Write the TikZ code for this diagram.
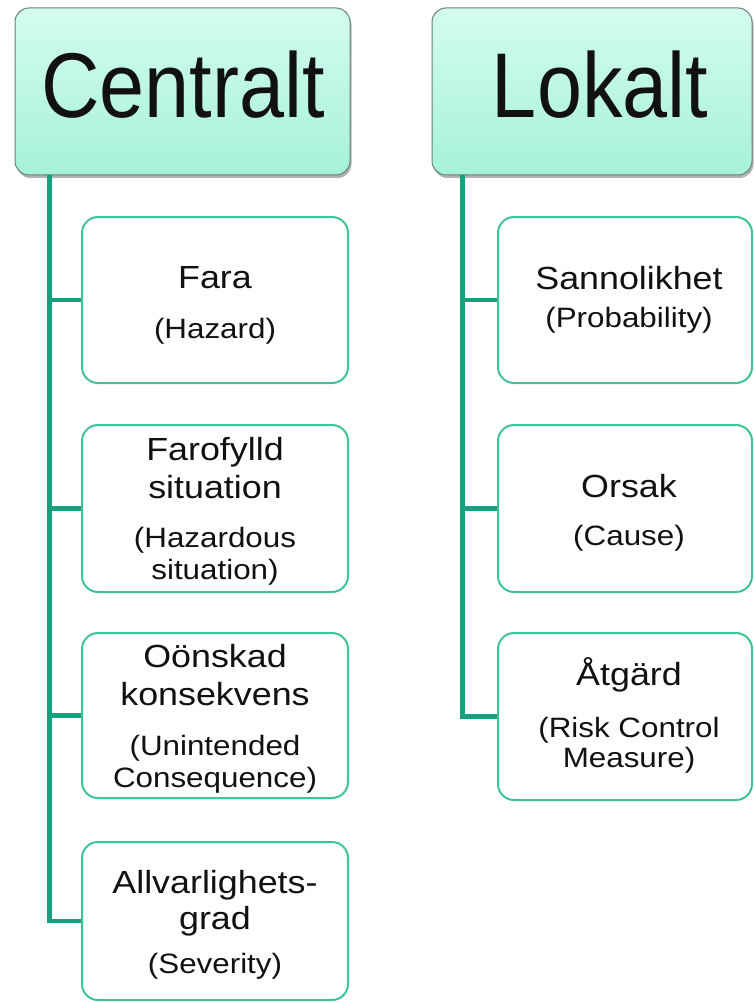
\documentclass[tikz,border=0pt]{standalone}
\usepackage{fontspec}
\setmainfont{Liberation Sans}
\newfontfamily\headfont[FakeStretch=0.88]{Liberation Sans}
\newfontfamily\itemfont[FakeStretch=1.12]{Liberation Sans}
\usetikzlibrary{shadows}
\definecolor{headtop}{HTML}{D3FCEF}
\definecolor{headbot}{HTML}{A6F2D9}
\definecolor{headedge}{HTML}{6B7F78}
\definecolor{itemedge}{HTML}{3CC49C}
\definecolor{connc}{HTML}{14A07C}
\definecolor{ink}{HTML}{111111}
\begin{document}
\begin{tikzpicture}[x=1pt,y=-1pt,
  head/.style={draw=headedge, line width=1pt, rounded corners=14pt,
    top color=headtop, bottom color=headbot,
    drop shadow={shadow xshift=1.5pt, shadow yshift=-3pt, opacity=0.3, fill=black}},
  item/.style={draw=itemedge, line width=2pt, rounded corners=16pt, fill=white},
  conn/.style={draw=connc, line width=4.5pt},
  htxt/.style={anchor=base, inner sep=0pt, text=ink, font=\headfont\fontsize{92}{100}\selectfont},
  txt/.style={anchor=base, inner sep=0pt, text=ink, font=\itemfont\fontsize{32}{36}\selectfont},
  sub/.style={anchor=base, inner sep=0pt, text=ink, font=\itemfont\fontsize{28}{32}\selectfont}]
\useasboundingbox[fill=white] (0,0) rectangle (754,1003);

% column headers
\node[head, minimum width=335pt, minimum height=167pt] (centralt) at (182.5,91.5) {};
\node[head, minimum width=320pt, minimum height=167pt] (lokalt) at (592,91.5) {};
\node[htxt] (centraltT) at (183,118) {Centralt};
\node[htxt] (lokaltT) at (600,118) {Lokalt};

% left column boxes
\node[item, minimum width=266pt, minimum height=166pt] (fara) at (215,300) {};
\node[item, minimum width=266pt, minimum height=167pt] (faro) at (215,508.5) {};
\node[item, minimum width=266pt, minimum height=165pt] (oonsk) at (215,715.5) {};
\node[item, minimum width=266pt, minimum height=158pt] (allv) at (215,921) {};

% right column boxes
\node[item, minimum width=254pt, minimum height=166pt] (sann) at (625,300) {};
\node[item, minimum width=254pt, minimum height=167pt] (orsak) at (625,508.5) {};
\node[item, minimum width=254pt, minimum height=167pt] (atg) at (625,716.5) {};

% connectors
\coordinate (ltop) at ([xshift=35pt]centralt.south west);
\coordinate (rtop) at ([xshift=31pt]lokalt.south west);
\draw[conn] (ltop) |- (allv.west);
\draw[conn] (fara.west -| ltop) -- (fara.west);
\draw[conn] (faro.west -| ltop) -- (faro.west);
\draw[conn] (oonsk.west -| ltop) -- (oonsk.west);
\draw[conn] (rtop) |- (atg.west);
\draw[conn] (sann.west -| rtop) -- (sann.west);
\draw[conn] (orsak.west -| rtop) -- (orsak.west);

% left column texts
\node[txt] (t1a) at (215,288) {Fara};
\node[sub] (t1b) at (215,338) {(Hazard)};
\node[txt] (t2a) at (215,460) {Farofylld};
\node[txt] (t2b) at (215,498) {situation};
\node[sub] (t2c) at (215,547) {(Hazardous};
\node[sub] (t2d) at (215,579) {situation)};
\node[txt] (t3a) at (215,667) {Oönskad};
\node[txt] (t3b) at (215,705) {konsekvens};
\node[sub] (t3c) at (215,755) {(Unintended};
\node[sub] (t3d) at (215,787) {Consequence)};
\node[txt] (t4a) at (215,893) {Allvarlighets-};
\node[txt] (t4b) at (215,929) {grad};
\node[sub] (t4c) at (215,973) {(Severity)};

% right column texts
\node[txt] (s1a) at (629,289) {Sannolikhet};
\node[sub] (s1b) at (629,327) {(Probability)};
\node[txt] (s2a) at (629,497) {Orsak};
\node[sub] (s2b) at (629,545) {(Cause)};
\node[txt] (s3a) at (629,685) {Åtgärd};
\node[sub] (s3b) at (629,737) {(Risk Control};
\node[sub] (s3c) at (629,767) {Measure)};
\end{tikzpicture}
\end{document}
